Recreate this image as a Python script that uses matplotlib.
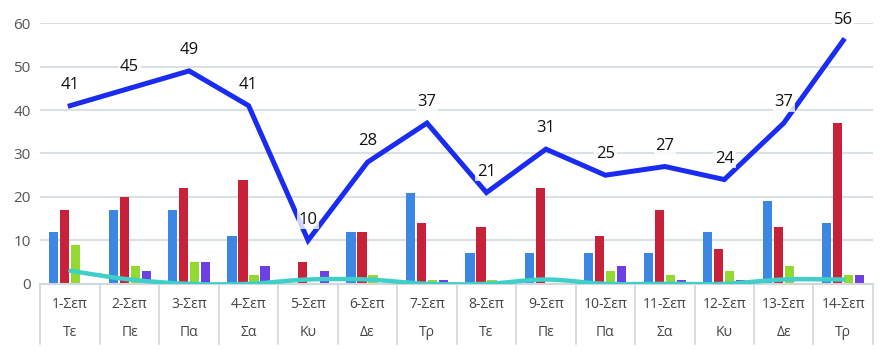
import numpy as np
import matplotlib.pyplot as plt
from matplotlib.path import Path
from matplotlib.patches import PathPatch
from matplotlib.transforms import blended_transform_factory

plt.rcParams['font.family'] = ['Open Sans', 'DejaVu Sans']

dates = ["1-Σεπ", "2-Σεπ", "3-Σεπ", "4-Σεπ", "5-Σεπ", "6-Σεπ", "7-Σεπ",
         "8-Σεπ", "9-Σεπ", "10-Σεπ", "11-Σεπ", "12-Σεπ", "13-Σεπ", "14-Σεπ"]
days = ["Τε", "Πε", "Πα", "Σα", "Κυ", "Δε", "Τρ",
        "Τε", "Πε", "Πα", "Σα", "Κυ", "Δε", "Τρ"]

bars_blue = [12, 17, 17, 11, 0, 12, 21, 7, 7, 7, 7, 12, 19, 14]
bars_red = [17, 20, 22, 24, 5, 12, 14, 13, 22, 11, 17, 8, 13, 37]
bars_green = [9, 4, 5, 2, 0, 2, 1, 1, 0, 3, 2, 3, 4, 2]
bars_purple = [0, 3, 5, 4, 3, 0, 1, 0, 0, 4, 1, 1, 0, 2]
total = [41, 45, 49, 41, 10, 28, 37, 21, 31, 25, 27, 24, 37, 56]
low = [3, 1, 0, 0, 1, 1, 0, 0, 1, 0, 0, 0, 1, 1]

fig = plt.figure(figsize=(8.8, 3.5), dpi=100)
ax = fig.add_axes([0.046, 0.189, 0.946, 0.745])

x = np.arange(len(dates))
w = 0.155
step = 0.185
colors = ["#3b87e3", "#c8223a", "#93d933", "#6d40e3"]
for k, (vals, c) in enumerate(zip([bars_blue, bars_red, bars_green, bars_purple], colors)):
    ax.bar(x + (k - 1.5) * step, vals, width=w, color=c, zorder=2)

# smooth curve through the low series (Catmull-Rom -> cubic Bezier)
pts = np.column_stack([x, low]).astype(float)
verts = [pts[0]]
codes = [Path.MOVETO]
for i in range(len(pts) - 1):
    p0 = pts[max(i - 1, 0)]
    p1 = pts[i]
    p2 = pts[i + 1]
    p3 = pts[min(i + 2, len(pts) - 1)]
    c1 = p1 + (p2 - p0) / 6
    c2 = p2 - (p3 - p1) / 6
    verts += [c1, c2, p2]
    codes += [Path.CURVE4] * 3
ax.add_patch(PathPatch(Path(verts, codes), fill=False, edgecolor="#3fcfc9",
                       lw=3.2, zorder=3, capstyle="round"))

ax.plot(x, total, color="#1a2cf2", lw=3.6, zorder=4, solid_joinstyle="miter")

for i, v in enumerate(total):
    ax.text(x[i], v + 4.8, str(v), ha="center", va="center", fontsize=12,
            color="#111111", zorder=5, clip_on=False,
            bbox=dict(boxstyle="square,pad=0.1", fc="white", ec="none", alpha=0.8))

ax.set_xlim(-0.5, len(dates) - 0.5)
ax.set_ylim(0, 60)
ax.set_yticks(range(0, 61, 10))
ax.yaxis.grid(True, color="#d8e1e4", lw=1.5, zorder=0)
ax.set_axisbelow(True)
ax.tick_params(axis="y", length=0, labelsize=11, labelcolor="#555555", pad=7)
ax.set_xticks([])
for s in ["top", "right", "left"]:
    ax.spines[s].set_visible(False)
ax.spines["bottom"].set_color("#d0d8dc")
ax.spines["bottom"].set_linewidth(1.5)

# two-row category table under the axis
tr = blended_transform_factory(ax.transData, ax.transAxes)
for i in range(len(dates)):
    ax.text(x[i], -0.08, dates[i], transform=tr, ha="center", va="center",
            fontsize=10, color="#444444")
    ax.text(x[i], -0.188, days[i], transform=tr, ha="center", va="center",
            fontsize=10, color="#444444")
for b in np.arange(-0.5, len(dates), 1.0):
    ax.plot([b, b], [0, -0.23], transform=tr, color="#d0d8dc", lw=1.2,
            clip_on=False)

fig.savefig("out.png")
